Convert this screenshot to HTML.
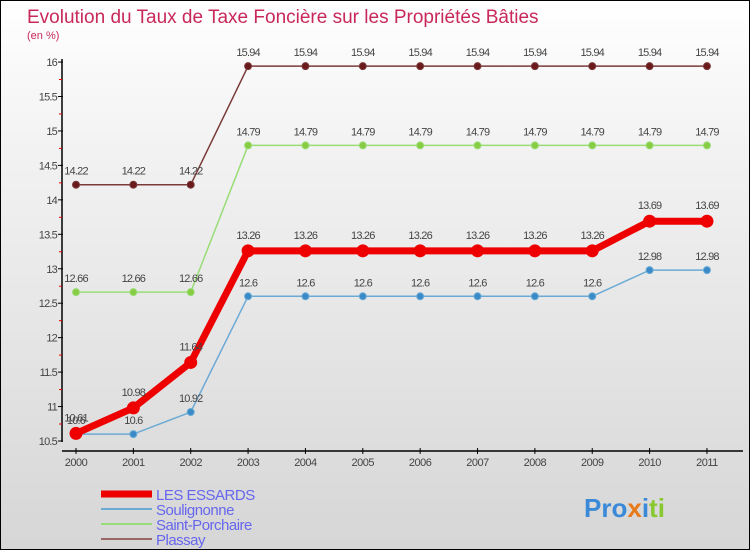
<!DOCTYPE html>
<html><head><meta charset="utf-8"><style>
body{margin:0}
#c{width:750px;height:550px;position:relative;overflow:hidden;box-sizing:border-box;border:1px solid #000;background:linear-gradient(#fff 0%,#f3f3f3 25%,#d6d6d6 100%);font-family:"Liberation Sans",sans-serif}
</style></head><body>
<div id="c">
<svg id="s" width="750" height="550" style="position:absolute;left:0;top:0">
<text x="26" y="22" font-size="19" fill="#c8285a">Evolution du Taux de Taxe Foncière sur les Propriétés Bâties</text>
<text x="26" y="38" font-size="11" fill="#c8285a">(en %)</text>
<g id="axes"></g><g id="series"></g><g id="legend"></g>
<text x="583" y="516" font-size="26" font-weight="bold"><tspan fill="#3a8ad8">Pro</tspan><tspan fill="#e87a1a">x</tspan><tspan fill="#3a8ad8">i</tspan><tspan fill="#8ac832">ti</tspan></text>
</svg>
</div>
<script>
const years=[2000,2001,2002,2003,2004,2005,2006,2007,2008,2009,2010,2011];
const yTicks=[10.5,11,11.5,12,12.5,13,13.5,14,14.5,15,15.5,16];
const essards=[10.61,10.98,11.64,13.26,13.26,13.26,13.26,13.26,13.26,13.26,13.69,13.69];
const soulignonne=[10.6,10.6,10.92,12.6,12.6,12.6,12.6,12.6,12.6,12.6,12.98,12.98];
const saintPorchaire=[12.66,12.66,12.66,14.79,14.79,14.79,14.79,14.79,14.79,14.79,14.79,14.79];
const plassay=[14.22,14.22,14.22,15.94,15.94,15.94,15.94,15.94,15.94,15.94,15.94,15.94];
const NS='http://www.w3.org/2000/svg';
const xs=i=>75+i*57.36;
const ys=v=>440-(v-10.5)*68.9;
function mk(tag,attrs,parent,txt){const e=document.createElementNS(NS,tag);for(const k in attrs)e.setAttribute(k,attrs[k]);if(txt!==undefined)e.textContent=txt;parent.appendChild(e);return e;}
const ax=document.getElementById('axes');
let e=mk('line',{x1:61,y1:58,x2:61,y2:441,stroke:'#000','stroke-width':1.5},ax);

e=mk('line',{x1:61,y1:450,x2:742,y2:450,stroke:'#000','stroke-width':1.5},ax);

yTicks.forEach((t,i)=>{const y=ys(t);
 mk('line',{x1:57,y1:y,x2:62,y2:y,stroke:'#000'},ax);
 if(i<yTicks.length-1)mk('line',{x1:58,y1:y-17,x2:61,y2:y-17,stroke:'#e00'},ax);
 e=mk('text',{x:56,y:y+4,'font-size':11,fill:'#444','text-anchor':'end','letter-spacing':'-0.8'},ax,String(t));
 });
years.forEach((yr,i)=>{const x=xs(i);
 mk('line',{x1:x,y1:447,x2:x,y2:453,stroke:'#000'},ax);
 e=mk('text',{x:x,y:465,'font-size':11,fill:'#444','text-anchor':'middle','letter-spacing':'-0.5'},ax,String(yr));
 });
const sg=document.getElementById('series');
function series(data,color,dot,w,r,name,labOff){
 const g=mk('g',{},sg);
 e=mk('polyline',{points:data.map((v,i)=>xs(i)+','+ys(v)).join(' '),fill:'none',stroke:color,'stroke-width':w,'stroke-linejoin':'round'},g);
 
 data.forEach((v,i)=>{e=mk('circle',{cx:xs(i),cy:ys(v),r:r,fill:dot,stroke:color,'stroke-width':1},g);
  
  e=mk('text',{x:xs(i),y:ys(v)-labOff,'font-size':11,fill:'#444','text-anchor':'middle','letter-spacing':'-0.8'},g,String(v));
  });
}
series(plassay,'#7a3a3a','#6a1a1a',1.5,3.5,'plassay',10);
series(saintPorchaire,'#99dd77','#88cc44',1.5,3.5,'saint-porchaire',10);
series(soulignonne,'#6aaad5','#3a8ac8',1.5,3.5,'soulignonne',10);
series(essards,'#ee0000','#ee0000',7,6,'les-essards',12);
const lg=document.getElementById('legend');
const leg=[['LES ESSARDS','#ee0000',7],['Soulignonne','#6aaad5',2],['Saint-Porchaire','#99dd77',2],['Plassay','#9a6666',2]];
leg.forEach((l,i)=>{const y=493+i*15;
 e=mk('line',{x1:100,y1:y,x2:151,y2:y,stroke:l[1],'stroke-width':l[2]},lg);
 
 e=mk('text',{x:155,y:y+6,'font-size':15,fill:'#6666ee','letter-spacing':'-0.5'},lg,l[0]);
 });
</script>
</body></html>
